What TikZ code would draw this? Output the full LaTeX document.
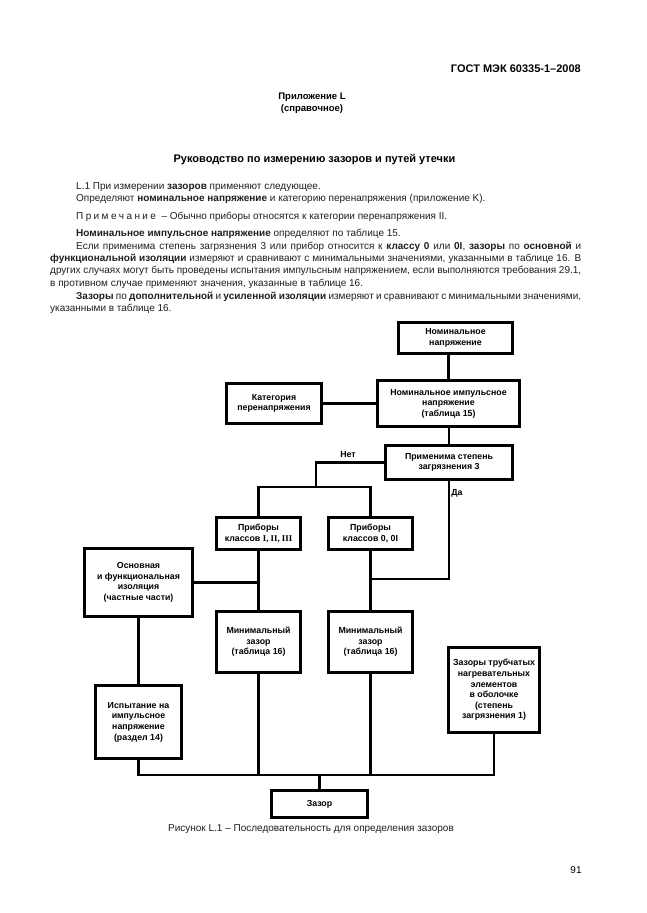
\documentclass[tikz,border=0pt]{standalone}
\usepackage{fontspec}
\setmainfont{Liberation Sans}
\newfontfamily\romnum{Liberation Serif}
\begin{document}
\begin{tikzpicture}[x=1pt,y=-1pt,
  bx/.style={draw, line width=2.3pt, align=center, inner sep=0pt,
    font=\fontsize{8.8}{10.6}\selectfont\bfseries},
  conn/.style={line width=2.3pt},
  lbl/.style={inner sep=0pt, font=\fontsize{8.8}{10.6}\selectfont\bfseries},
  bodyline/.style={anchor=base west, inner sep=0pt, font=\fontsize{10}{12}\selectfont, text=black!88}
]
\useasboundingbox (0,0) rectangle (646,913);
\fill[white] (0,0) rectangle (646,913);

% header and title
\node[anchor=base east, inner sep=0pt, font=\fontsize{11}{13}\selectfont\bfseries] (hdr) at (581,72) {ГОСТ МЭК 60335-1–2008};
\node[align=center, inner sep=0pt, font=\fontsize{9.5}{12}\selectfont\bfseries] (app) at (312,103) {Приложение L\\(справочное)};
\node[anchor=base, inner sep=0pt, font=\fontsize{11}{13}\selectfont\bfseries] (ttl) at (314.5,162) {Руководство по измерению зазоров и путей утечки};

% body text
\node[bodyline] (t1) at (76,189.5) {L.1 При измерении \textbf{зазоров} применяют следующее.};
\node[bodyline] (t2) at (76,201.5) {Определяют \textbf{номинальное напряжение} и категорию перенапряжения (приложение K).};
\node[bodyline] (t3) at (76,219.5) {П\hspace{2.4pt}р\hspace{2.4pt}и\hspace{2.4pt}м\hspace{2.4pt}е\hspace{2.4pt}ч\hspace{2.4pt}а\hspace{2.4pt}н\hspace{2.4pt}и\hspace{2.4pt}е \ – Обычно приборы относятся к категории перенапряжения II.};
\node[bodyline] (t4) at (76,236.5) {\textbf{Номинальное импульсное напряжение} определяют по таблице 15.};
\node[bodyline] (t5) at (76,249.5) {\makebox[505pt][s]{Если применима степень загрязнения 3 или прибор относится к \textbf{классу 0} или \textbf{0I}, \textbf{зазоры} по \textbf{основной} и}};
\node[bodyline] (t6) at (50,261.5) {\makebox[531pt][s]{\textbf{функциональной изоляции} измеряют и сравнивают с минимальными значениями, указанными в таблице 16. В}};
\node[bodyline] (t7) at (50,273.5) {\makebox[531pt][s]{других случаях могут быть проведены испытания импульсным напряжением, если выполняются требования 29.1,}};
\node[bodyline] (t8) at (50,286.5) {в противном случае применяют значения, указанные в таблице 16.};
\node[bodyline] (t9) at (76,299.5) {\makebox[505pt][s]{\textbf{Зазоры} по \textbf{дополнительной} и \textbf{усиленной изоляции} измеряют и сравнивают с минимальными значениями,}};
\node[bodyline] (t10) at (50,311.5) {указанными в таблице 16.};

% boxes
\node[bx, minimum width=114pt, minimum height=31pt] (nn) at (455.5,338) {Номинальное\\напряжение};
\node[bx, minimum width=95pt, minimum height=40pt] (kat) at (274,403.5) {Категория\\перенапряжения};
\node[bx, minimum width=142pt, minimum height=46pt] (nimp) at (448.5,403.5) {Номинальное импульсное\\напряжение\\(таблица 15)};
\node[bx, minimum width=127pt, minimum height=34pt] (prim) at (449,462.5) {Применима степень\\загрязнения 3};
\node[bx, minimum width=84pt, minimum height=32pt] (pr1) at (258.5,533.5) {Приборы\\классов {\romnum I, II, III}};
\node[bx, minimum width=84pt, minimum height=32pt] (pr2) at (370.5,533.5) {Приборы\\классов 0, 0I};
\node[bx, minimum width=108pt, minimum height=68pt] (osn) at (138.5,582.5) {Основная\\и функциональная\\изоляция\\(частные части)};
\node[bx, minimum width=84pt, minimum height=61pt] (min1) at (258.5,642) {Минимальный\\зазор\\(таблица 16)};
\node[bx, minimum width=84pt, minimum height=61pt] (min2) at (370.5,642) {Минимальный\\зазор\\(таблица 16)};
\node[bx, minimum width=91pt, minimum height=85pt] (tub) at (494,690) {Зазоры трубчатых\\нагревательных\\элементов\\в оболочке\\(степень\\загрязнения 1)};
\node[bx, minimum width=86pt, minimum height=73pt] (isp) at (138.5,722) {Испытание на\\импульсное\\напряжение\\(раздел 14)};
\node[bx, minimum width=96pt, minimum height=27pt] (zaz) at (319.5,804) {Зазор};

% labels
\node[lbl] (net) at (348,455) {Нет};
\node[lbl] (da) at (457,493) {Да};

% junction coordinates
\coordinate (nojoin) at (316,487);
\coordinate (dajoin) at (370.5,579);
\coordinate (bus) at (319.5,775);

% connectors
\draw[conn] (nimp.north) -- (nimp.north |- nn.south);
\draw[conn] (kat.east) -- (nimp.west);
\draw[conn] (prim.north) -- (prim.north |- nimp.south);
\draw[conn] (prim.west) -| (nojoin);
\draw[conn] (pr1.north) |- (pr2.north |- nojoin) -- (pr2.north);
\draw[conn] (prim.south) |- (dajoin);
\draw[conn] (pr1.south) -- (min1.north);
\draw[conn] (pr2.south) -- (min2.north);
\draw[conn] (osn.east) -- (osn.east -| pr1.south);
\draw[conn] (osn.south) -- (isp.north);
\draw[conn] (isp.south) |- (tub.south |- bus) -- (tub.south);
\draw[conn] (min1.south) -- (min1.south |- bus);
\draw[conn] (min2.south) -- (min2.south |- bus);
\draw[conn] (zaz.north) -- (zaz.north |- bus);

% caption and page number
\node[anchor=base, inner sep=0pt, font=\fontsize{10}{12}\selectfont, text=black!88] (cap) at (311,831.5) {Рисунок L.1 – Последовательность для определения зазоров};
\node[anchor=base, inner sep=0pt, font=\fontsize{10}{12}\selectfont] (pg) at (576,873.5) {91};
\end{tikzpicture}
\end{document}
